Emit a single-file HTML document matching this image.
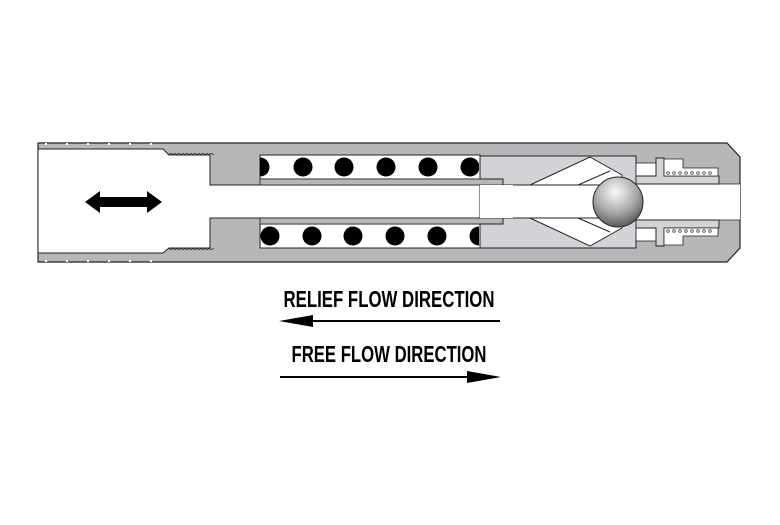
<!DOCTYPE html>
<html><head><meta charset="utf-8"><style>
html,body{margin:0;padding:0;background:#fff;}
</style></head><body>
<svg width="780" height="520" viewBox="0 0 780 520" xmlns="http://www.w3.org/2000/svg">
<defs>
<radialGradient id="b" cx="0.45" cy="0.3" r="0.7">
<stop offset="0" stop-color="#fafafa"/><stop offset="0.6" stop-color="#a8a8a8"/><stop offset="1" stop-color="#5a5a5a"/>
</radialGradient>
<clipPath id="tc"><rect x="260" y="155" width="219" height="24"/></clipPath>
<clipPath id="bc"><rect x="260" y="224" width="219" height="24"/></clipPath>
</defs>
<!-- body -->
<path d="M38 143 L727 143 L740 157 L740 248 L727 262 L38 262 Z" fill="#b5b7b9" stroke="#222" stroke-width="1.2"/>
<g fill="#fff">
<rect x="45" y="143" width="2" height="2"/><rect x="66" y="143" width="2" height="2"/><rect x="87" y="143" width="2" height="2"/><rect x="108" y="143" width="2" height="2"/><rect x="129" y="143" width="2" height="2"/><rect x="150" y="143" width="2" height="2"/>
<rect x="45" y="260" width="2" height="2"/><rect x="66" y="260" width="2" height="2"/><rect x="87" y="260" width="2" height="2"/><rect x="108" y="260" width="2" height="2"/><rect x="129" y="260" width="2" height="2"/><rect x="150" y="260" width="2" height="2"/>
</g>
<!-- left bore -->
<path d="M38 149 L163 149 L169 155 L210 155 L210 185 L480 185 L480 218 L210 218 L210 248 L169 248 L163 253 L38 253 Z" fill="#fff" stroke="#222" stroke-width="1"/>
<path d="M169 155 q2 -3 4 0 q2 -3 4 0 q2 -3 4 0 q2 -3 4 0 q2 -3 4 0 q2 -3 4 0 q2 -3 4 0 q2 -3 4 0 q2 -3 4 0 q2 -3 4 0 q2 -3 5 0" fill="none" stroke="#222" stroke-width="0.8"/>
<path d="M169 248 q2 3 4 0 q2 3 4 0 q2 3 4 0 q2 3 4 0 q2 3 4 0 q2 3 4 0 q2 3 4 0 q2 3 4 0 q2 3 4 0 q2 3 4 0 q2 3 5 0" fill="none" stroke="#222" stroke-width="0.8"/>
<!-- spring chambers -->
<rect x="260" y="155" width="220" height="24" fill="#fff" stroke="#222" stroke-width="1"/>
<rect x="260" y="224" width="220" height="24" fill="#fff" stroke="#222" stroke-width="1"/>
<g fill="#000" clip-path="url(#tc)">
<circle cx="260" cy="167" r="9.5"/><circle cx="303" cy="167" r="9.5"/><circle cx="344" cy="167" r="9.5"/><circle cx="386" cy="167" r="9.5"/><circle cx="428" cy="167" r="9.5"/><circle cx="470" cy="167" r="9.5"/>
</g>
<g fill="#000" clip-path="url(#bc)">
<circle cx="270" cy="236" r="9.5"/><circle cx="312" cy="236" r="9.5"/><circle cx="353" cy="236" r="9.5"/><circle cx="395" cy="236" r="9.5"/><circle cx="437" cy="236" r="9.5"/><circle cx="479" cy="236" r="9.5"/>
</g>
<rect x="260" y="179" width="243" height="6" fill="#b5b7b9" stroke="#222" stroke-width="0.8"/>
<rect x="260" y="218" width="243" height="6" fill="#b5b7b9" stroke="#222" stroke-width="0.8"/>
<!-- poppet -->
<path d="M480 156 L636 156 L636 248 L480 248 L480 224 L503 224 L503 218 L513 218 L513 185 L503 185 L503 179 L480 179 Z" fill="#d2d3d7" stroke="#222" stroke-width="1"/>
<rect x="480" y="185" width="156" height="33" fill="#fff"/>
<path d="M530 185 L590 157 L622 175 L622 185 Z" fill="#fff" stroke="#222" stroke-width="1"/>
<path d="M530 218 L590 246 L622 228 L622 218 Z" fill="#fff" stroke="#222" stroke-width="1"/>
<line x1="513" y1="185" x2="530" y2="185" stroke="#222"/><line x1="513" y1="218" x2="530" y2="218" stroke="#222"/>
<path d="M578 185 L610 171 M578 218 L610 232" stroke="#222" fill="none"/>
<!-- right cavity: central passage -->
<rect x="636" y="184" width="104" height="36" fill="#fff"/>
<line x1="719" y1="184" x2="740" y2="184" stroke="#222" stroke-width="0.8"/>
<line x1="719" y1="220" x2="740" y2="220" stroke="#222" stroke-width="0.8"/>
<!-- top fitting -->
<rect x="636" y="163" width="20" height="13" fill="#fff" stroke="#222" stroke-width="0.8"/>
<path d="M636 176 L656 176 L656 158 L664 158 L664 176 L719 176 L719 184 L636 184 Z" fill="#d2d3d7" stroke="#222" stroke-width="0.9"/>
<path d="M664 159 L683 159 L683 168 L718 168 L718 176 L664 176 Z" fill="#fff" stroke="#222" stroke-width="0.8"/>
<!-- bottom fitting -->
<rect x="636" y="228" width="20" height="13" fill="#fff" stroke="#222" stroke-width="0.8"/>
<path d="M636 228 L656 228 L656 246 L664 246 L664 228 L719 228 L719 220 L636 220 Z" fill="#d2d3d7" stroke="#222" stroke-width="0.9"/>
<path d="M664 245 L683 245 L683 236 L718 236 L718 228 L664 228 Z" fill="#fff" stroke="#222" stroke-width="0.8"/>
<g fill="none" stroke="#222" stroke-width="0.7">
<circle cx="668" cy="173" r="1.3"/><circle cx="674" cy="173" r="1.3"/><circle cx="680" cy="173" r="1.3"/><circle cx="686" cy="173" r="1.3"/><circle cx="692" cy="173" r="1.3"/><circle cx="698" cy="173" r="1.3"/><circle cx="704" cy="173" r="1.3"/><circle cx="710" cy="173" r="1.3"/>
<circle cx="668" cy="231" r="1.3"/><circle cx="674" cy="231" r="1.3"/><circle cx="680" cy="231" r="1.3"/><circle cx="686" cy="231" r="1.3"/><circle cx="692" cy="231" r="1.3"/><circle cx="698" cy="231" r="1.3"/><circle cx="704" cy="231" r="1.3"/><circle cx="710" cy="231" r="1.3"/>
</g>
<!-- ball -->
<circle cx="618" cy="202" r="25" fill="url(#b)" stroke="#222" stroke-width="1"/>
<!-- double arrow -->
<path d="M85 202 L100 191 L100 197 L147 197 L147 191 L162 202 L147 213 L147 207 L100 207 L100 213 Z" fill="#000"/>
<!-- labels -->
<text x="389" y="307" text-anchor="middle" font-family="Liberation Sans Narrow, Liberation Sans, sans-serif" font-weight="bold" font-size="23" textLength="211" lengthAdjust="spacingAndGlyphs">RELIEF FLOW DIRECTION</text>
<line x1="300" y1="321" x2="500" y2="321" stroke="#000" stroke-width="2"/>
<path d="M279 321 L313 315 L313 327 Z" fill="#000"/>
<text x="389" y="362" text-anchor="middle" font-family="Liberation Sans Narrow, Liberation Sans, sans-serif" font-weight="bold" font-size="23" textLength="195" lengthAdjust="spacingAndGlyphs">FREE FLOW DIRECTION</text>
<line x1="280" y1="377" x2="480" y2="377" stroke="#000" stroke-width="2"/>
<path d="M501 377 L467 371 L467 383 Z" fill="#000"/>
</svg>
</body></html>
